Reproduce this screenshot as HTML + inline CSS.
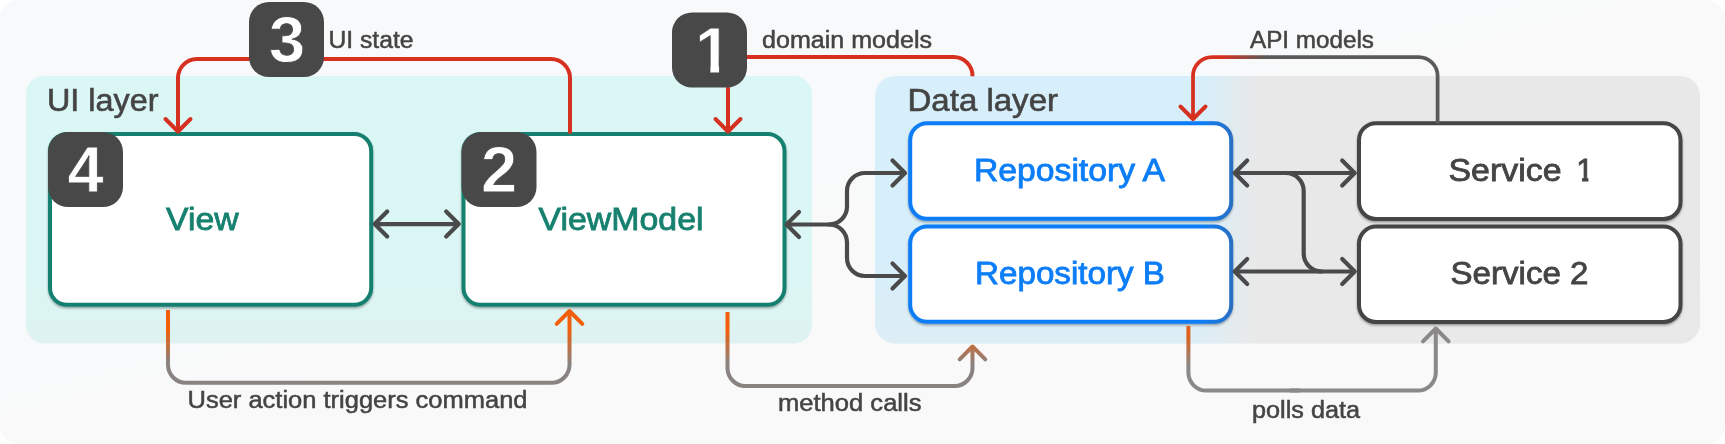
<!DOCTYPE html>
<html>
<head>
<meta charset="utf-8">
<title>Architecture diagram</title>
<style>
html,body{margin:0;padding:0;background:#fff;}
body{width:1725px;height:444px;overflow:hidden;}
svg{display:block;opacity:0.999;}
text{font-family:"Liberation Sans",sans-serif;}
.lbl{font-size:23px;fill:#444;stroke:#444;stroke-width:0.5px;}
.ttl{font-size:30.5px;fill:#444;stroke:#444;stroke-width:0.6px;}
.num{font-size:65px;font-weight:bold;fill:#fff;stroke:#484848;stroke-width:0.8px;}
</style>
</head>
<body>
<svg width="1725" height="444" viewBox="0 0 1725 444">
<defs>
  <linearGradient id="gData" x1="875" y1="0" x2="1700" y2="0" gradientUnits="userSpaceOnUse">
    <stop offset="0" stop-color="#d6effb"/>
    <stop offset="0.395" stop-color="#d6effb"/>
    <stop offset="0.462" stop-color="#e8e8e8"/>
    <stop offset="1" stop-color="#e8e8e8"/>
  </linearGradient>
  <linearGradient id="gUI" x1="0" y1="76" x2="0" y2="343" gradientUnits="userSpaceOnUse">
    <stop offset="0" stop-color="#daf7f6"/>
    <stop offset="0.7" stop-color="#daf6f5"/>
    <stop offset="1" stop-color="#def3f1"/>
  </linearGradient>
  <linearGradient id="gOrange" x1="0" y1="330" x2="0" y2="364" gradientUnits="userSpaceOnUse">
    <stop offset="0" stop-color="#f25f0c"/>
    <stop offset="1" stop-color="#888381"/>
  </linearGradient>
  <linearGradient id="gOrange2" x1="0" y1="336" x2="0" y2="366" gradientUnits="userSpaceOnUse">
    <stop offset="0" stop-color="#dd611a"/>
    <stop offset="1" stop-color="#8a8888"/>
  </linearGradient>
  <linearGradient id="gApi" x1="1193" y1="0" x2="1300" y2="0" gradientUnits="userSpaceOnUse">
    <stop offset="0" stop-color="#d63020"/>
    <stop offset="0.28" stop-color="#d63020"/>
    <stop offset="0.68" stop-color="#5a5a5a"/>
  </linearGradient>
  <filter id="sh" x="-5%" y="-10%" width="110%" height="125%">
    <feDropShadow dx="0" dy="1.5" stdDeviation="1.2" flood-color="#000" flood-opacity="0.35"/>
  </filter>
  <clipPath id="c1"><rect x="690" y="20" width="50" height="38"/><rect x="710.4" y="57" width="8.7" height="20"/></clipPath>
  <linearGradient id="gBlue" x1="908" y1="0" x2="1233" y2="0" gradientUnits="userSpaceOnUse">
    <stop offset="0" stop-color="#0b7df7"/>
    <stop offset="0.9" stop-color="#0b7df7"/>
    <stop offset="1" stop-color="#2a6fc2"/>
  </linearGradient>
  <clipPath id="c2"><rect x="1565" y="150" width="30" height="24"/><rect x="1582" y="173" width="6.4" height="12"/></clipPath>
  <linearGradient id="gBg" x1="0" y1="0" x2="1" y2="1">
    <stop offset="0" stop-color="#f8f9fa"/>
    <stop offset="0.42" stop-color="#f8f9fa"/>
    <stop offset="0.62" stop-color="#f9f9f9"/>
    <stop offset="1" stop-color="#f9f9f9"/>
  </linearGradient>
  <linearGradient id="gFade" x1="0" y1="76" x2="0" y2="343" gradientUnits="userSpaceOnUse">
    <stop offset="0" stop-color="#ebebeb" stop-opacity="0"/>
    <stop offset="0.65" stop-color="#ebebeb" stop-opacity="0"/>
    <stop offset="1" stop-color="#ebebeb" stop-opacity="0.35"/>
  </linearGradient>
</defs>

<!-- outer background -->
<rect x="0" y="0" width="1725" height="444" rx="19" ry="19" fill="url(#gBg)"/>

<!-- layer panels -->
<rect x="26" y="76" width="786" height="267.4" rx="18" fill="url(#gUI)"/>
<rect x="875" y="76" width="825" height="267.4" rx="20" fill="url(#gData)"/>
<rect x="875" y="76" width="825" height="267.4" rx="20" fill="url(#gFade)"/>

<text class="ttl" x="47" y="110.7" textLength="111.5" lengthAdjust="spacingAndGlyphs">UI layer</text>
<text class="ttl" x="907.5" y="110.7" textLength="150.5" lengthAdjust="spacingAndGlyphs">Data layer</text>

<!-- boxes -->
<g filter="url(#sh)" stroke-width="4" fill="#fff">
<rect x="50" y="134" width="321.2" height="170.8" rx="17" stroke="#17806f"/>
<rect x="463.5" y="134" width="321" height="170.8" rx="17" stroke="#17806f"/>
<rect x="910.2" y="123.2" width="321" height="95.6" rx="17" stroke="url(#gBlue)"/>
<rect x="910.2" y="226.4" width="321" height="95.4" rx="17" stroke="url(#gBlue)"/>
<rect x="1359" y="123.2" width="321.5" height="95.8" rx="17" stroke="#444"/>
<rect x="1359" y="226.6" width="321.5" height="95.4" rx="17" stroke="#444"/>
</g>

<!-- box labels -->
<g font-size="31" stroke-width="0.8">
<text x="166" y="229.5" fill="#17806f" stroke="#17806f" textLength="72.5" lengthAdjust="spacingAndGlyphs">View</text>
<text x="538.5" y="229.5" fill="#17806f" stroke="#17806f" textLength="165" lengthAdjust="spacingAndGlyphs">ViewModel</text>
<text x="974" y="180.8" fill="#0b7df7" stroke="#0b7df7" textLength="191" lengthAdjust="spacingAndGlyphs">Repository A</text>
<text x="975" y="283.7" fill="#0b7df7" stroke="#0b7df7" textLength="190" lengthAdjust="spacingAndGlyphs">Repository B</text>
<text x="1448.5" y="181.2" fill="#444" stroke="#444" textLength="113" lengthAdjust="spacingAndGlyphs">Service</text>
<g clip-path="url(#c2)"><text x="1576.3" y="181.2" fill="#444" stroke="#444">1</text></g>
<text x="1450.5" y="284" fill="#444" stroke="#444" textLength="138" lengthAdjust="spacingAndGlyphs">Service 2</text>
</g>

<!-- red arrows -->
<g fill="none" stroke="#d63020" stroke-width="4" stroke-linecap="round" stroke-linejoin="round">
  <path d="M570 132 V78 A19 19 0 0 0 551 59 H197 A19 19 0 0 0 178 78 V130"/>
  <path d="M165.5 119.0 L178 131.5 L190.5 119.0"/>
  <path d="M972.5 76.3 A19 19 0 0 0 953.5 57 H747" stroke-linecap="butt"/>
  <path d="M728 88 V130"/>
  <path d="M715.5 119.0 L728 131.5 L740.5 119.0"/>
</g>
<!-- API models -->
<g fill="none" stroke-width="3.75" stroke-linecap="round" stroke-linejoin="round">
  <path d="M1437.6 122 V76 A19 19 0 0 0 1418.6 57 H1212 A19 19 0 0 0 1193 76 V118" stroke="url(#gApi)"/>
  <path d="M1180.5 106.5 L1193 119 L1205.5 106.5" stroke="#d63020" stroke-width="4"/>
</g>

<!-- bottom arrows -->
<g fill="none" stroke-width="4" stroke-linecap="butt" stroke-linejoin="round">
  <path d="M168 310 V364.8 A18 18 0 0 0 186 382.8 H551.5 A18 18 0 0 0 569.5 364.8 V312" stroke="url(#gOrange)"/>
  <path d="M556.7 323.8 L569.5 311 L582.3 323.8" stroke="url(#gOrange)" stroke-linecap="round"/>
  <path d="M727.5 312 V368 A18 18 0 0 0 745.5 386 H954.5 A18 18 0 0 0 972.5 368 V347" stroke="url(#gOrange)"/>
  <path d="M959.7 359.3 L972.5 346.5 L985.3 359.3" stroke="url(#gOrange)" stroke-linecap="round"/>
  <path d="M1188.4 326 V372.6 A18 18 0 0 0 1206.4 390.6 H1300" stroke="url(#gOrange2)"/>
  <path d="M1290 390.6 H1417.8 A18 18 0 0 0 1435.8 372.6 V329" stroke="#8a8888"/>
  <path d="M1423.0 341.3 L1435.8 328.5 L1448.6 341.3" stroke="#8a8888" stroke-linecap="round"/>
</g>

<!-- dark connector arrows -->
<g fill="none" stroke="#4a4a4a" stroke-width="4.2" stroke-linecap="round" stroke-linejoin="round">
  <path d="M375.2 224.1 H458.2"/>
  <path d="M387.2 211.6 L374.7 224.1 L387.2 236.6"/>
  <path d="M446.2 211.6 L458.700 224.1 L446.2 236.6"/>

  <path d="M787 224.5 H829 A18 18 0 0 0 847 206.5 V191 A18 18 0 0 1 865 173 H904"/>
  <path d="M829 224.5 A18 18 0 0 1 847 242.500 V258 A18 18 0 0 0 865 276 H904"/>
  <path d="M799.0 212.0 L786.5 224.5 L799.0 237.0"/>
  <path d="M892.5 160.5 L905 173 L892.5 185.5"/>
  <path d="M892.5 263.5 L905 276 L892.5 288.5"/>

<g transform="translate(-0.8 0)">
  <path d="M1236 173 H1355"/>
  <path d="M1248.0 160.5 L1235.5 173 L1248.0 185.5"/>
  <path d="M1343.0 160.5 L1355.5 173 L1343.0 185.5"/>
  <path d="M1236 271.5 H1355"/>
  <path d="M1248.0 259.0 L1235.5 271.5 L1248.0 284.0"/>
  <path d="M1343.0 259.0 L1355.5 271.5 L1343.0 284.0"/>
  <path d="M1286.500 173 A18 18 0 0 1 1304.500 191 V253.500 A18 18 0 0 0 1322.500 271.500"/>
</g>
</g>

<!-- badges -->
<g fill="#484848">
  <rect x="249" y="2" width="75" height="75" rx="20"/>
  <rect x="672" y="12.500" width="75" height="75" rx="20"/>
  <rect x="48" y="132" width="75" height="75" rx="20"/>
  <rect x="461.500" y="132" width="75" height="75" rx="20"/>
</g>
<text class="num" x="287" y="62" text-anchor="middle">3</text>
<g clip-path="url(#c1)"><text class="num" x="713" y="72.500" text-anchor="middle">1</text></g>
<text class="num" x="85.500" y="191.500" text-anchor="middle">4</text>
<text class="num" x="499" y="191.500" text-anchor="middle">2</text>

<!-- labels -->
<text class="lbl" x="328.5" y="47.500" textLength="85" lengthAdjust="spacingAndGlyphs">UI state</text>
<text class="lbl" x="762" y="47.500" textLength="170" lengthAdjust="spacingAndGlyphs">domain models</text>
<text class="lbl" x="1250" y="47.500" textLength="124" lengthAdjust="spacingAndGlyphs">API models</text>
<text class="lbl" x="187.5" y="408" textLength="340" lengthAdjust="spacingAndGlyphs">User action triggers command</text>
<text class="lbl" x="778" y="410.5" textLength="143.5" lengthAdjust="spacingAndGlyphs">method calls</text>
<text class="lbl" x="1252" y="418" textLength="108" lengthAdjust="spacingAndGlyphs">polls data</text>
</svg>
</body>
</html>
